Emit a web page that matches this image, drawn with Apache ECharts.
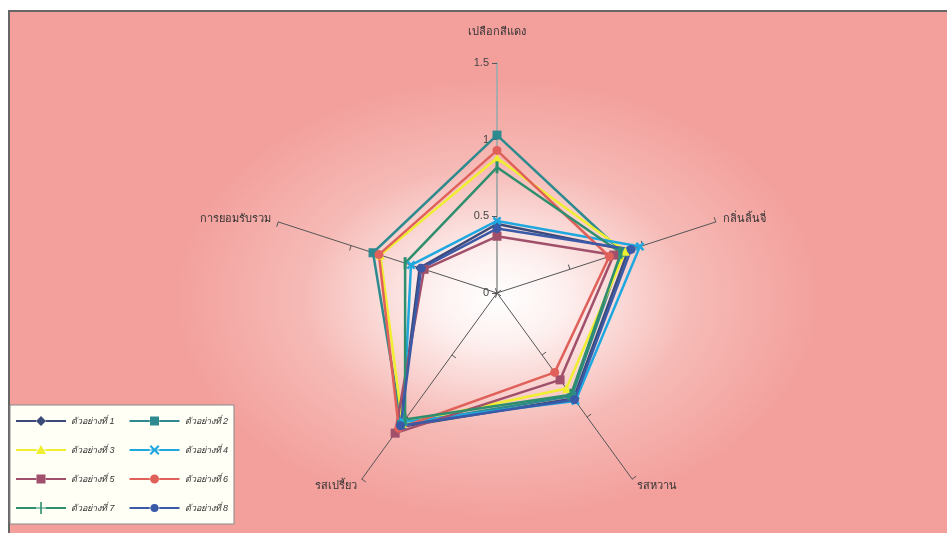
<!DOCTYPE html>
<html>
<head>
<meta charset="utf-8">
<script src="https://cdn.jsdelivr.net/npm/echarts@6/dist/echarts.min.js"></script>
<style>
html,body{margin:0;padding:0;background:#fff;}
#chart{width:947px;height:533px;}
</style>
</head>
<body>
<div id="chart"></div>
<script>
// indicators listed counter-clockwise starting at the top (ECharts order)
const categories = ['เปลือกสีแดง', 'การยอมรับรวม', 'รสเปรี้ยว', 'รสหวาน', 'กลิ่นลิ้นจี่'];
const seriesNames = ['ตัวอย่างที่ 1', 'ตัวอย่างที่ 2', 'ตัวอย่างที่ 3', 'ตัวอย่างที่ 4',
                     'ตัวอย่างที่ 5', 'ตัวอย่างที่ 6', 'ตัวอย่างที่ 7', 'ตัวอย่างที่ 8'];
const sample1 = [0.45, 0.53, 1.08, 0.85, 0.90];
const sample2 = [1.03, 0.85, 1.06, 0.83, 0.86];
const sample3 = [0.88, 0.80, 1.05, 0.77, 0.88];
const sample4 = [0.47, 0.59, 1.04, 0.87, 0.98];
const sample5 = [0.37, 0.50, 1.13, 0.70, 0.80];
const sample6 = [0.93, 0.81, 1.09, 0.64, 0.77];
const sample7 = [0.82, 0.63, 1.02, 0.82, 0.85];
const sample8 = [0.42, 0.52, 1.07, 0.86, 0.92];
const tickLabels = ['0', '0.5', '1', '1.5'];
const axisMax = 1.5;

const allData = [sample1, sample2, sample3, sample4, sample5, sample6, sample7, sample8];
const colors = ['#3B4A7A', '#2E8A8E', '#F0EE30', '#1FA8E0', '#A0506A', '#E0605A', '#2E8E6E', '#3A5AA8'];
const symbols = [
    'diamond', 'rect', 'triangle',
    'path://M0,2L2,0L5,3L8,0L10,2L7,5L10,8L8,10L5,7L2,10L0,8L3,5Z',
    'rect', 'circle',
    'path://M4,0L6,0L6,10L4,10Z',
    'circle'
];

// legend icons: a line with the marker in the middle, drawn in a 50x14 box
const corners = 'M0,0L0.01,0L0,0.01Z M50,14L49.99,14L50,13.99Z ';
const legLine = 'M0,6L20,6L20,8L0,8Z M30,6L50,6L50,8L30,8Z M20,6.5L30,6.5L30,7.5L20,7.5Z ';
const legMarks = [
    'M25,2L30,7L25,12L20,7Z',
    'M20.5,2.5L29.5,2.5L29.5,11.5L20.5,11.5Z',
    'M25,2L30,11L20,11Z',
    'M20,3.5L21.5,2L25,5.5L28.5,2L30,3.5L26.5,7L30,10.5L28.5,12L25,8.5L21.5,12L20,10.5L23.5,7Z',
    'M20.5,2.5L29.5,2.5L29.5,11.5L20.5,11.5Z',
    'M20.5,7A4.5,4.5 0 1,1 29.5,7A4.5,4.5 0 1,1 20.5,7Z',
    'M24.2,1L25.8,1L25.8,13L24.2,13Z',
    'M21,7A4,4 0 1,1 29,7A4,4 0 1,1 21,7Z'
];

let myChart = echarts.init(document.getElementById('chart'));

let indicator = categories.map((c, i) => {
    let ind = {name: c, max: axisMax, min: 0};
    if (i === 0) {
        ind.nameGap = 26;
        ind.axisLine = {lineStyle: {color: '#aaa', width: 2}};
        ind.axisLabel = {show: true};
    } else {
        ind.axisLabel = {show: false};
    }
    return ind;
});

let series = [{
    type: 'radar',
    data: allData.map((d, i) => ({
        name: seriesNames[i],
        value: d,
        symbol: symbols[i],
        symbolSize: i === 6 ? [3, 12] : 9,
        lineStyle: {color: colors[i], width: 2.5},
        itemStyle: {color: colors[i]}
    }))
}];

myChart.setOption({
    animation: false,
    color: colors,
    graphic: [{
        type: 'rect',
        z: -10,
        x: 9, y: 11,
        scaleY: 0.68,
        shape: {x: 0, y: 0, width: 940, height: 522 / 0.68},
        style: {
            fill: {
                type: 'radial', x: 0.52, y: 0.55, r: 0.42,
                colorStops: [
                    {offset: 0, color: '#ffffff'},
                    {offset: 0.2, color: '#fdf1f0'},
                    {offset: 0.6, color: '#f6bab6'},
                    {offset: 1, color: '#f3a09c'}
                ]
            }
        }
    }, {
        type: 'polyline',
        z: -9,
        shape: {points: [[9, 533], [9, 11], [947, 11]]},
        style: {stroke: '#666', lineWidth: 2, fill: null}
    }],
    legend: {
        left: 10, top: 405,
        width: 250,
        padding: [9, 6, 9, 6],
        itemWidth: 50, itemHeight: 14,
        itemGap: 15,
        backgroundColor: '#fffff6',
        borderColor: '#888', borderWidth: 1,
        data: seriesNames.map((n, i) => ({
            name: n,
            icon: 'path://' + corners + legLine + legMarks[i]
        })),
        textStyle: {fontSize: 9, color: '#333', fontStyle: 'italic', padding: [0, 8, 0, 0]}
    },
    radar: {
        center: [497, 293],
        radius: 230,
        startAngle: 90,
        shape: 'polygon',
        splitNumber: 3,
        indicator: indicator,
        nameGap: 8,
        axisName: {color: '#333', fontSize: 11},
        splitLine: {show: false},
        splitArea: {show: false},
        axisLine: {lineStyle: {color: '#555', width: 1}},
        axisTick: {show: true, length: 5, lineStyle: {color: '#555'}},
        axisLabel: {
            show: true, color: '#444', fontSize: 11, margin: 8,
            formatter: (v) => tickLabels[Math.round(v / 0.5)]
        }
    },
    series: series
});
</script>
</body>
</html>
